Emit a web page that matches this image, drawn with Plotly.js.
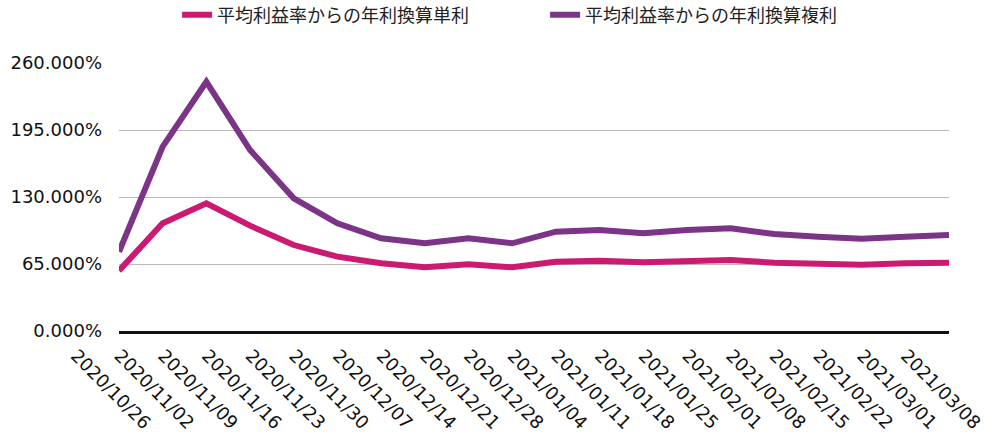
<!DOCTYPE html>
<html><head><meta charset="utf-8">
<script src="https://cdn.plot.ly/plotly-3.0.1.min.js"></script>
<style>html,body{margin:0;padding:0;background:#fff}#chart{width:1005px;height:440px}</style>
</head><body><div id="chart"></div>
<script>
const dates = ["2020/10/26","2020/11/02","2020/11/09","2020/11/16","2020/11/23","2020/11/30","2020/12/07","2020/12/14","2020/12/21","2020/12/28","2021/01/04","2021/01/11","2021/01/18","2021/01/25","2021/02/01","2021/02/08","2021/02/15","2021/02/22","2021/03/01","2021/03/08"];
const simpleName = "平均利益率からの年利換算単利";
const compoundName = "平均利益率からの年利換算複利";
const simpleRate = [58.5,104.5,123.9,102.2,83.4,72.1,65.7,61.8,64.7,61.8,67.2,68.2,66.6,67.9,68.9,66.3,65.3,64.3,65.7,66.3];
const compoundRate = [76.9,178.8,241.8,175.6,128.7,104.5,89.9,85.1,89.9,85.1,96.4,98.0,94.8,98.0,99.6,94.1,91.5,89.6,91.5,93.1];
const yTicks = [0,65,130,195,260];

const latin = "'DejaVu Sans', sans-serif";
const cjk = "'Noto Sans CJK JP', sans-serif";
const traces = [
  {x: dates, y: simpleRate, name: simpleName, type: 'scatter', mode: 'lines',
   line: {color: '#CC1A72', width: 6}},
  {x: dates, y: compoundRate, name: compoundName, type: 'scatter', mode: 'lines',
   line: {color: '#7B3486', width: 6}}
];
const layout = {
  width: 1005, height: 440,
  margin: {l: 119, r: 56, t: 63, b: 109, autoexpand: false},
  paper_bgcolor: '#fff', plot_bgcolor: '#fff',
  font: {family: latin, color: '#111', size: 18},
  showlegend: true,
  legend: {orientation: 'h', x: 0.07, xanchor: 'left', y: 1.179, yanchor: 'middle',
           font: {size: 18, family: cjk, color: '#222'}, entrywidth: 323, entrywidthmode: 'pixels',
           traceorder: 'normal', bgcolor: 'rgba(0,0,0,0)'},
  xaxis: {type: 'category', range: [0, 19], showgrid: false, zeroline: false,
          showline: true, linecolor: '#111', linewidth: 3,
          ticks: '', tickangle: 45, tickfont: {size: 18, family: latin, color: '#111'},
          ticklabelshift: -43, ticklabelstandoff: 4, automargin: false},
  yaxis: {range: [0, 260], tickvals: yTicks, ticktext: yTicks.map(v => v.toFixed(3) + '%'),
          showgrid: true, gridcolor: '#b8b8b8', gridwidth: 1, zeroline: false,
          showline: false, ticks: '', tickfont: {size: 18, family: latin, color: '#111'},
          ticklabelstandoff: 16, automargin: false}
};
Plotly.newPlot('chart', traces, layout, {displayModeBar: false, staticPlot: true});
</script></body></html>
